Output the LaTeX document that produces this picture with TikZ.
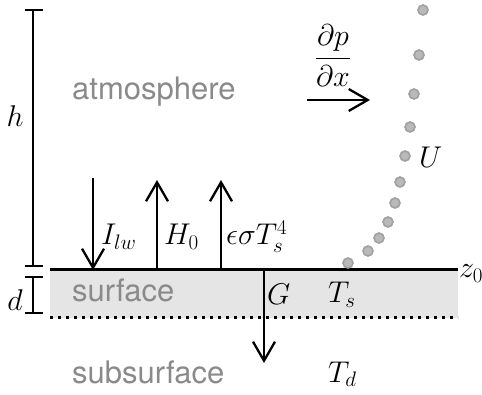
\RequirePackage{fix-cm}
\documentclass[tikz,border=0pt]{standalone}
\usepackage{amsmath}
\usepackage{fontspec}
\newfontfamily\layerfont{TeX Gyre Heros}
\usepackage{tikz}
\usetikzlibrary{arrows.meta}
\definecolor{layergray}{RGB}{138, 138, 138}
\definecolor{surfacefill}{RGB}{229, 229, 229}
\definecolor{dotgray}{RGB}{185, 185, 185}
\definecolor{dotring}{RGB}{160, 160, 160}

\begin{document}
\begin{tikzpicture}[x=1pt,y=-1pt,
	flux/.style={line width=2.3pt,-{Straight Barb[length=19pt,width=22pt]}},
	layer/.style={anchor=base west,inner sep=0pt,text=layergray,font=\fontsize{31}{36}\selectfont\layerfont},
	sym/.style={inner sep=0pt,font=\fontsize{30}{36}\selectfont},
	windpt/.style={circle,fill=dotgray,draw=dotring,line width=1.6pt,minimum size=10pt,inner sep=0pt}]
						\useasboundingbox (0,0) rectangle (482,395);
						% surface layer
						\fill[surfacefill] (50,270) rectangle (458,318);
						\draw[line width=3pt,dash pattern=on 3pt off 5pt] (50,318)--(458,318);
						\draw[line width=3pt] (50,270)--(458,270);
						% heights
						\draw[line width=2.3pt] (25,10)--(43,10) (33,10)--(33,266) (25,266)--(43,266);
						\draw[line width=2.3pt] (25,277)--(43,277) (33,277)--(33,313) (25,313)--(43,313);
						\node[sym] (hlab) at (15,116) {$h$};
						\node[sym] (dlab) at (15,300) {$d$};
						\node[sym,anchor=base west] (zlab) at (459,278) {$z_0$};
						% layers
						\node[layer] (atm) at (72,100) {atmosphere};
						\node[layer] (surf) at (72,302) {surface};
						\node[layer] (subsurf) at (72,383) {subsurface};
						% fluxes
						\coordinate (ilwtop) at (93,178);
						\coordinate (ilwbot) at (93,270);
						\coordinate (hbot) at (157,270);
						\coordinate (htop) at (157,180);
						\coordinate (rbot) at (221,270);
						\coordinate (rtop) at (221,180);
						\coordinate (gtop) at (264,270);
						\coordinate (gbot) at (264,363);
						\draw[flux] (ilwtop)--(ilwbot);
						\draw[flux] (hbot)--(htop);
						\draw[flux] (rbot)--(rtop);
						\draw[flux] (gtop)--(gbot);
						\node[sym,anchor=base west] (ilw) at (101,245) {$I_{lw}$};
						\node[sym,anchor=base west] (hzero) at (164,245) {$H_0$};
						\node[sym,anchor=base west] (rad) at (226,245) {$\epsilon\sigma T_s^4$};
						\node[sym,anchor=base west] (glab) at (267,305) {$G$};
						\node[sym,anchor=base west] (ts) at (328,303) {$T_s$};
						\node[sym,anchor=base west] (td) at (328,382) {$T_d$};
						% pressure gradient
						\node[sym] (dpdx) at (333,56) {$\dfrac{\partial p}{\partial x}$};
						\coordinate (pfrom) at (307,100);
						\coordinate (pto) at (370,100);
						\draw[flux] (pfrom)--(pto);
						% wind profile
						\foreach \x/\y [count=\i] in {423/10,419/55,414/94,410/127,405/156,400/182,395/203,388/222,379/238,368/251,348/263}
							\node[windpt] (u\i) at (\x,\y) {};
						\node[sym,anchor=base west] (ulab) at (419,168) {$U$};
					\end{tikzpicture}
\end{document}
